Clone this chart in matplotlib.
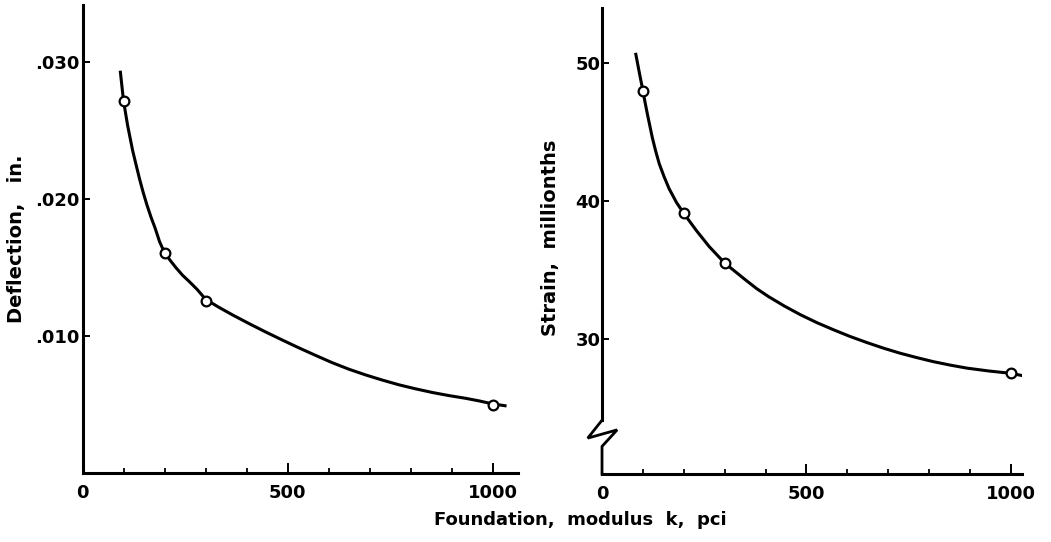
import matplotlib.pyplot as plt
from matplotlib.ticker import FixedLocator, MultipleLocator

# measured points, foundation modulus k (pci)
k_pontos = [100, 200, 300, 1000]
deflexao_pontos = [0.0272, 0.0161, 0.0126, 0.0050]
strain_pontos = [48.0, 39.1, 35.5, 27.5]

# hand-drawn curves
k_curva_defl = [92, 100, 105, 110, 116, 122, 130, 139, 148, 157, 167, 177, 188, 200,
                214, 228, 244, 260, 280, 300, 333, 366, 406, 447, 487, 528, 568, 609,
                650, 690, 730, 771, 811, 852, 893, 934, 967, 1000, 1034]
defl_curva = [0.0294, 0.0272, 0.0263, 0.0254, 0.0245, 0.0236, 0.0226, 0.0215, 0.0205,
              0.0196, 0.0187, 0.0179, 0.0169, 0.0161, 0.01553, 0.0150, 0.01445,
              0.0140, 0.0134, 0.0127, 0.0121, 0.01155, 0.01092, 0.0103, 0.00972,
              0.00914, 0.0086, 0.00806, 0.00758, 0.00717, 0.0068, 0.00645, 0.00616,
              0.00589, 0.00566, 0.00546, 0.00527, 0.00505, 0.0049]

k_curva_strain = [82, 91, 100, 105, 111, 117, 123, 131, 140, 152, 164, 182, 200, 231,
                  262, 281, 300, 325, 350, 378, 407, 446, 486, 526, 567, 607, 648, 688,
                  729, 770, 810, 851, 892, 946, 1000, 1039]
strain_curva = [50.75, 49.35, 48.0, 47.2, 46.3, 45.45, 44.6, 43.65, 42.7, 41.75, 40.9,
                39.9, 39.1, 37.85, 36.7, 36.1, 35.5, 34.9, 34.3, 33.65, 33.07, 32.38,
                31.74, 31.17, 30.65, 30.17, 29.73, 29.33, 28.96, 28.64, 28.35, 28.1,
                27.88, 27.67, 27.5, 27.27]

x_ticks = [0, 500, 1000]
defl_ticks = [0.010, 0.020, 0.030]
defl_labels = ['.010', '.020', '.030']
strain_ticks = [30, 40, 50]

plt.rcParams['font.family'] = 'DejaVu Sans'
plt.rcParams['font.weight'] = 'bold'

fig = plt.figure(figsize=(10.51, 5.42), dpi=100)
ax1 = fig.add_axes([0.0785, 0.1273, 0.414, 0.8635])
ax2 = fig.add_axes([0.5728, 0.1255, 0.3996, 0.8597])


def estilo(ax):
    for lado in ['top', 'right']:
        ax.spines[lado].set_visible(False)
    for lado in ['left', 'bottom']:
        ax.spines[lado].set_linewidth(2.2)
    ax.xaxis.set_major_locator(FixedLocator(x_ticks))
    ax.xaxis.set_minor_locator(MultipleLocator(100))
    ax.tick_params(axis='x', which='major', direction='in', length=7, width=1.4,
                   labelsize=13, pad=8)
    ax.tick_params(axis='x', which='minor', direction='in', length=3.5, width=1.3)
    ax.tick_params(axis='y', which='major', direction='in', length=5, width=1.4,
                   labelsize=13, pad=2)


# deflection
ax1.plot(k_curva_defl, defl_curva, color='black', lw=2.2, solid_capstyle='butt',
         solid_joinstyle='round')
ax1.plot(k_pontos, deflexao_pontos, 'o', ms=7, mfc='white', mec='black', mew=1.6)
ax1.set_xlim(0, 1061)
ax1.set_ylim(0, 0.0342)
estilo(ax1)
ax1.set_yticks(defl_ticks)
ax1.set_yticklabels(defl_labels)
ax1.set_ylabel('Deflection,   in.', fontsize=14, fontweight='bold')
ax1.yaxis.set_label_coords(-0.13, 0.5)

# strain
ax2.plot(k_curva_strain, strain_curva, color='black', lw=2.2, solid_capstyle='butt',
         solid_joinstyle='round')
ax2.plot(k_pontos, strain_pontos, 'o', ms=7, mfc='white', mec='black', mew=1.6)
ax2.set_xlim(0, 1027)
ax2.set_ylim(20.2, 54)
estilo(ax2)
ax2.set_yticks(strain_ticks)
ax2.tick_params(axis='y', pad=1)
ax2.set_ylabel('Strain,  millionths', fontsize=14, fontweight='bold')
ax2.yaxis.set_label_coords(-0.1, 0.506)

# broken y axis on the strain plot
ax2.spines['left'].set_bounds(24.1, 54)
tr = ax2.get_yaxis_transform()
ax2.plot([0, -0.034, 0.036, 0, 0], [24.1, 22.8, 23.4, 22.2, 20.2], color='black',
         lw=2.0, transform=tr, clip_on=False, solid_joinstyle='miter')

fig.text(0.552, 0.04, 'Foundation,  modulus  k,  pci', ha='center', va='center',
         fontsize=13, fontweight='bold')

fig.savefig('out.png', dpi=100)
